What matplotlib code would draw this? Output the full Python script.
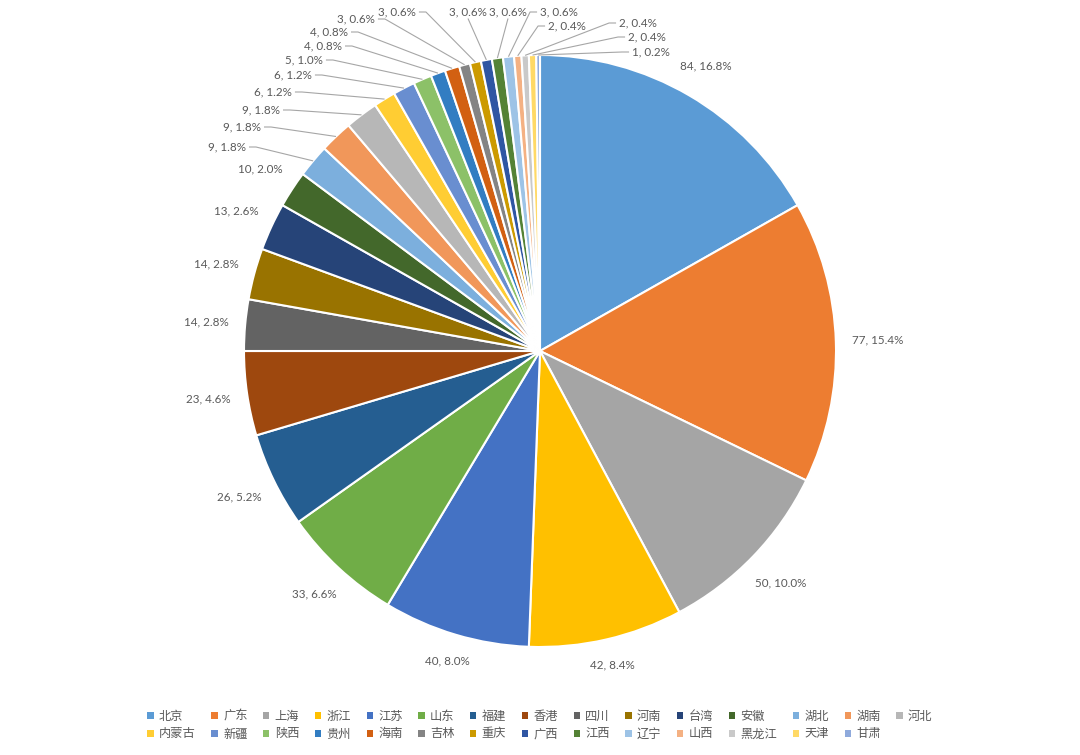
import numpy as np
import matplotlib.pyplot as plt
from matplotlib.patches import Patch

# data
provinces = ["北京", "广东", "上海", "浙江", "江苏", "山东", "福建", "香港", "四川", "河南",
             "台湾", "安徽", "湖北", "湖南", "河北", "内蒙古", "新疆", "陕西", "贵州", "海南",
             "吉林", "重庆", "广西", "江西", "辽宁", "山西", "黑龙江", "天津", "甘肃"]
counts = [84, 77, 50, 42, 40, 33, 26, 23, 14, 14,
          13, 10, 9, 9, 9, 6, 6, 5, 4, 4,
          3, 3, 3, 3, 3, 2, 2, 2, 1]
colors = ["#5B9BD5", "#ED7D31", "#A5A5A5", "#FFC000", "#4472C4", "#70AD47", "#255E91", "#9E480E",
          "#636363", "#997300", "#264478", "#43682B", "#7CAFDD", "#F1975A", "#B7B7B7", "#FFCD33",
          "#698ED0", "#8CC168", "#327DC2", "#D26012", "#848484", "#CC9A00", "#2F56A3", "#548235",
          "#9DC3E6", "#F4B183", "#C9C9C9", "#FFD966", "#8FAADC"]

# layout (pixels, y measured from the top of the image)
W, H = 1080, 755
CX, CY, R = 540, 351, 296
FIRST_LEADER = 12
# label centres for the small slices that get leader lines
leader_label_pos = [(227, 147), (242, 127), (261, 110), (273, 92), (293, 75), (304, 60),
                    (323, 46), (329, 32), (356, 19), (397, 12), (468, 12), (508, 12),
                    (559, 12), (567, 26), (638, 23), (647, 37), (651, 52)]

LABEL_COLOR = "#595959"
LINE_COLOR = "#A6A6A6"

fig = plt.figure(figsize=(W / 100, H / 100), dpi=100)
ax = fig.add_axes([0, 0, 1, 1])
wedges, _ = ax.pie(counts, colors=colors, startangle=90, counterclock=False,
                   center=(CX, H - CY), radius=R,
                   wedgeprops=dict(edgecolor="white", linewidth=1.5))
ax.set_xlim(0, W)
ax.set_ylim(0, H)
ax.set_aspect("equal")
ax.axis("off")

renderer = fig.canvas.get_renderer()
total = sum(counts)
cy_data = H - CY

for i, (w, v) in enumerate(zip(wedges, counts)):
    ang = np.deg2rad((w.theta1 + w.theta2) / 2)
    c, s = np.cos(ang), np.sin(ang)
    txt = f"{v}, {v / total * 100:.1f}%"
    t = ax.text(0, 0, txt, ha="center", va="center", fontsize=8.4,
                family="Lato", color=LABEL_COLOR)
    bb = t.get_window_extent(renderer)
    hw, hh = bb.width / 2, bb.height / 2
    if i < FIRST_LEADER:
        d = R + 16 + abs(c) * hw + abs(s) * hh
        t.set_position((CX + d * c, cy_data + d * s))
        continue
    lx, ly = leader_label_pos[i - FIRST_LEADER]
    ly = H - ly
    t.set_position((lx, ly))
    px, py = CX + R * c, cy_data + R * s
    if lx + hw + 4 < px - 6:
        x0 = lx + hw + 3
        xs, ys = [x0, x0 + 7, px], [ly, ly, py]
    elif lx - hw - 4 > px + 6:
        x0 = lx - hw - 3
        xs, ys = [x0, x0 - 7, px], [ly, ly, py]
    else:
        xs, ys = [lx, px], [ly - hh - 1, py]
    ax.plot(xs, ys, color=LINE_COLOR, lw=0.8, solid_capstyle="butt")

# legend filled row by row (matplotlib fills columns first)
ncol = 15
handles = [Patch(facecolor=col, edgecolor="none") for col in colors]
order = []
for col in range(ncol):
    for row in range(2):
        k = row * ncol + col
        if k < len(provinces):
            order.append(k)
leg = fig.legend([handles[k] for k in order], [provinces[k] for k in order],
                 loc="center", bbox_to_anchor=(0.5, 1 - 725 / H), ncol=ncol,
                 frameon=False, prop={"family": ["Noto Sans CJK SC", "DejaVu Sans"], "size": 8.8},
                 handlelength=0.5, handleheight=0.5, handletextpad=0.45,
                 columnspacing=1.28, labelspacing=0.4, borderpad=0)
for t in leg.get_texts():
    t.set_color(LABEL_COLOR)

fig.savefig("out.png", dpi=100, facecolor="white")
